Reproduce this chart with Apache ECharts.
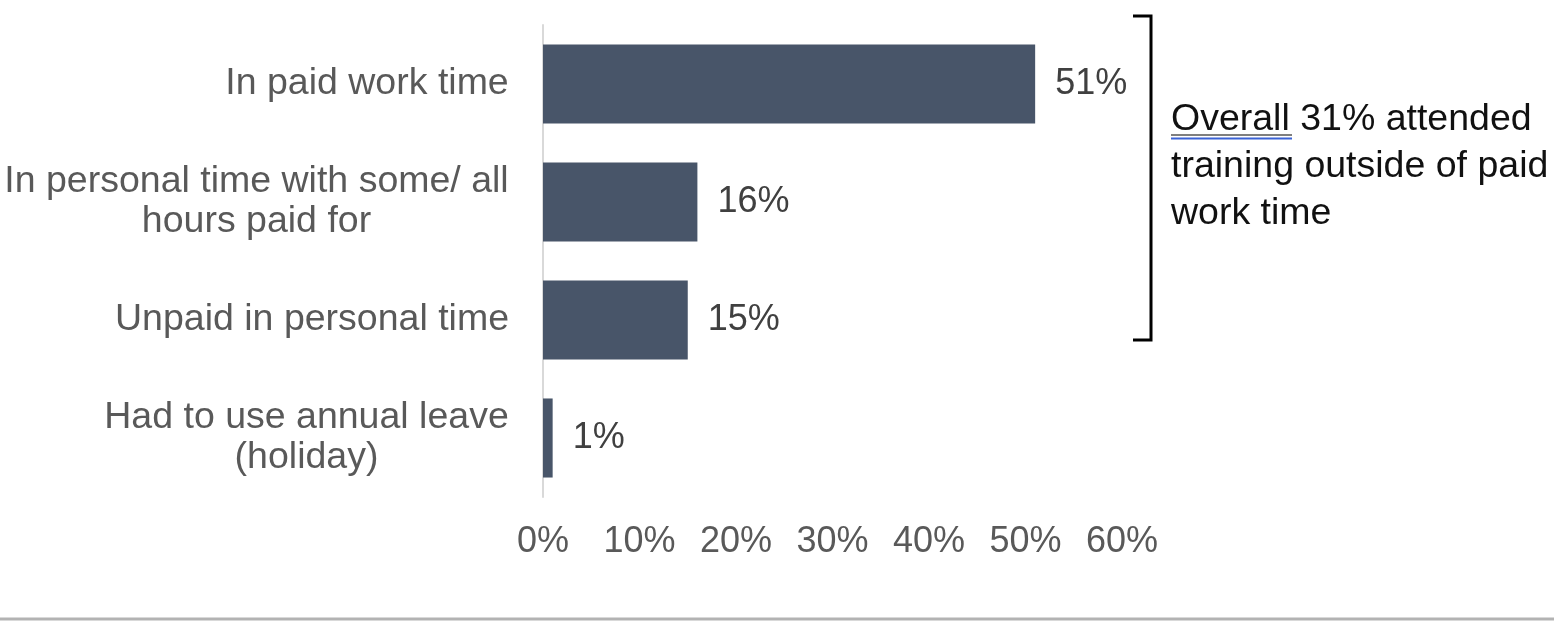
<!DOCTYPE html>
<html>
<head>
<meta charset="utf-8">
<script src="https://cdn.jsdelivr.net/npm/echarts@6/dist/echarts.min.js"></script>
<style>
  html, body { margin: 0; padding: 0; background: #fff; }
  #chart { width: 1554px; height: 622px; }
</style>
</head>
<body>
<div id="chart"></div>
<script>
const categories = [
  'In paid work time',
  'In personal time with some/ all\nhours paid for',
  'Unpaid in personal time',
  'Had to use annual leave\n(holiday)'
];
const shares = [51, 16, 15, 1];
const xTicks = [0, 10, 20, 30, 40, 50, 60];
const noteLines = ['Overall 31% attended', 'training outside of paid', 'work time'];

const fontFamily = '"Liberation Sans", Arial, Helvetica, sans-serif';
const fontSize = 36;
const bigFont = 37.5;

// measure label lines so multi-line labels are centred but right-aligned as a block
const ctx = document.createElement('canvas').getContext('2d');
ctx.font = bigFont + 'px ' + fontFamily;
const rich = {};
categories.forEach(function (c, i) {
  const w = Math.max.apply(null, c.split('\n').map(function (l) { return ctx.measureText(l).width; }));
  rich['c' + i] = {
    width: Math.ceil(w) + 2,
    align: 'center',
    fontSize: bigFont,
    fontFamily: fontFamily,
    color: '#595959',
    lineHeight: 40
  };
});

const chart = echarts.init(document.getElementById('chart'));
chart.setOption({
  animation: false,
  grid: { left: 543, right: 432, top: 25, bottom: 125, containLabel: false },
  xAxis: {
    type: 'value',
    min: xTicks[0],
    max: xTicks[xTicks.length - 1],
    interval: xTicks[1] - xTicks[0],
    axisLine: { show: false },
    axisTick: { show: false },
    splitLine: { show: false },
    axisLabel: {
      formatter: '{value}%',
      fontSize: fontSize,
      fontFamily: fontFamily,
      color: '#595959',
      margin: 27
    }
  },
  yAxis: {
    type: 'category',
    inverse: true,
    data: categories,
    axisLine: { show: true, lineStyle: { color: '#d9d9d9', width: 2 } },
    axisTick: { show: false },
    axisLabel: {
      margin: 33,
      formatter: function (value, index) {
        return value.split('\n').map(function (l) { return '{c' + index + '|' + l + '}'; }).join('\n');
      },
      rich: rich
    }
  },
  series: [{
    type: 'bar',
    data: shares,
    barWidth: '67%',
    itemStyle: { color: '#485569' },
    label: {
      show: true,
      position: 'right',
      distance: 20,
      formatter: '{c}%',
      fontSize: fontSize,
      fontFamily: fontFamily,
      color: '#404040'
    }
  }],
  graphic: [
    {
      type: 'polyline',
      shape: { points: [[1133, 16], [1151, 16], [1151, 340], [1133, 340]] },
      style: { stroke: '#000', lineWidth: 3, fill: null }
    },
    {
      type: 'text',
      x: 1171,
      y: 96,
      style: {
        text: noteLines.join('\n'),
        fontSize: bigFont,
        fontFamily: fontFamily,
        fill: '#111',
        lineHeight: 47,
        verticalAlign: 'top'
      }
    },
    {
      type: 'line',
      shape: { x1: 1171, y1: 135, x2: 1292, y2: 135 },
      style: { stroke: '#555', lineWidth: 1.5 }
    },
    {
      type: 'line',
      shape: { x1: 1171, y1: 138.5, x2: 1292, y2: 138.5 },
      style: { stroke: '#3b63d6', lineWidth: 2 }
    },
    {
      type: 'line',
      shape: { x1: 0, y1: 619, x2: 1554, y2: 619 },
      style: { stroke: '#b3b3b3', lineWidth: 3 }
    }
  ]
});
</script>
</body>
</html>
